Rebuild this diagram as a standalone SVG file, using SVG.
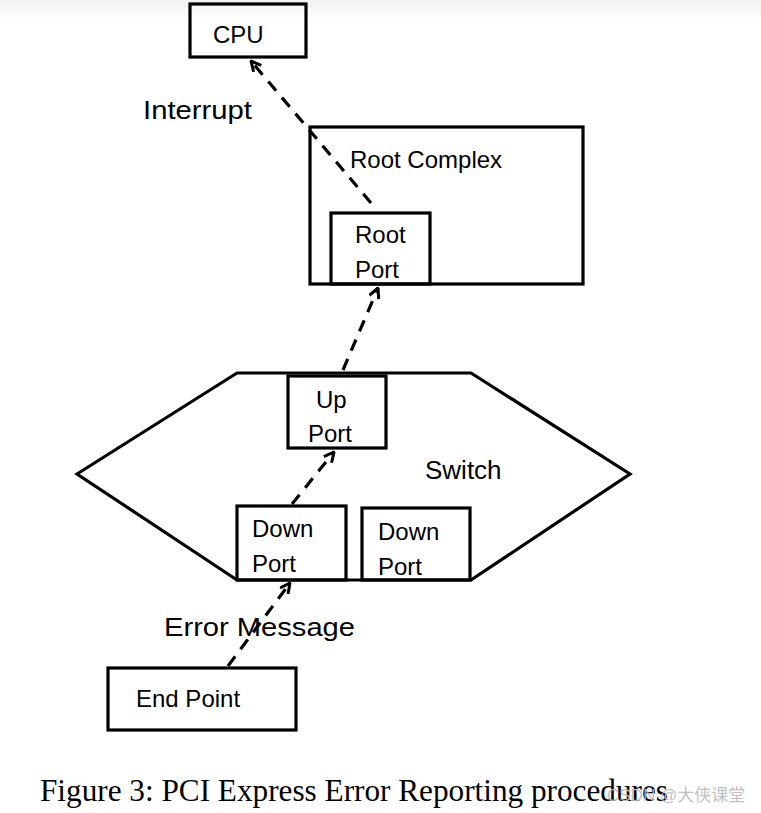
<svg xmlns="http://www.w3.org/2000/svg" width="761" height="813" viewBox="0 0 761 813">
<style>
.box{fill:none;stroke:#000;stroke-width:3.2}
.t{font-family:"Liberation Sans",Arial,sans-serif;font-size:24px;fill:#000}
.lbl{font-family:"Liberation Sans",Arial,sans-serif;font-size:26px;fill:#000}
.dash{fill:none;stroke:#000;stroke-width:3.2;stroke-dasharray:12 9;marker-end:url(#arr)}
.cap{font-family:"Liberation Serif","Times New Roman",serif;font-size:31px;fill:#000}
.wm{font-family:"Liberation Sans","Noto Sans CJK SC",sans-serif;font-size:17px;fill:#bbb;opacity:0.9}
</style>
<defs>
<linearGradient id="bg" x1="0" y1="0" x2="0" y2="1">
<stop offset="0" stop-color="#f2f2f2"/><stop offset="1" stop-color="#fff"/>
</linearGradient>
<marker id="arr" viewBox="0 0 12 12" refX="11" refY="6" markerWidth="12" markerHeight="12" markerUnits="userSpaceOnUse" orient="auto">
<path d="M1,1 L11,6 L1,11" fill="none" stroke="#000" stroke-width="3"/>
</marker>
</defs>
<rect width="761" height="813" fill="#fff"/>
<rect width="761" height="22" fill="url(#bg)"/>
<g id="cpu"><rect class="box" x="190" y="4" width="116" height="53"/><text class="t" x="213" y="43">CPU</text></g>
<g id="root-complex"><rect class="box" x="310" y="127" width="273" height="157"/><text class="t" x="350" y="168">Root Complex</text></g>
<g id="root-port"><rect class="box" x="331" y="213" width="99" height="71"/><text class="t" x="355" y="243">Root</text><text class="t" x="355" y="278">Port</text></g>
<g id="switch"><polygon class="box" points="77,474 237,373 471,373 630,474 471,580 237,580"/><text class="lbl" x="425" y="479">Switch</text></g>
<g id="up-port"><rect class="box" x="288" y="376" width="98" height="72"/><text class="t" x="316" y="408">Up</text><text class="t" x="308" y="442">Port</text></g>
<g id="down-port-1"><rect class="box" x="237" y="506" width="109" height="74"/><text class="t" x="252" y="537">Down</text><text class="t" x="252" y="572">Port</text></g>
<g id="down-port-2"><rect class="box" x="362" y="508" width="108" height="72"/><text class="t" x="378" y="540">Down</text><text class="t" x="378" y="575">Port</text></g>
<g id="end-point"><rect class="box" x="108" y="668" width="188" height="62"/><text class="t" x="136" y="707">End Point</text></g>
<g id="connectors">
<line class="dash" x1="228" y1="666" x2="290" y2="583"/>
<line class="dash" x1="292" y1="504" x2="334" y2="452"/>
<line class="dash" x1="343" y1="370" x2="378" y2="288"/>
<line class="dash" x1="371" y1="203" x2="251" y2="61"/>
</g>
<text class="lbl" x="143" y="119" textLength="109" lengthAdjust="spacingAndGlyphs">Interrupt</text>
<text class="lbl" x="164" y="636" textLength="191" lengthAdjust="spacingAndGlyphs">Error Message</text>
<text class="cap" x="40" y="801" textLength="628" lengthAdjust="spacingAndGlyphs">Figure 3: PCI Express Error Reporting procedures</text>
<text class="wm" x="607" y="801">CSDN @大侠课堂</text>
</svg>
